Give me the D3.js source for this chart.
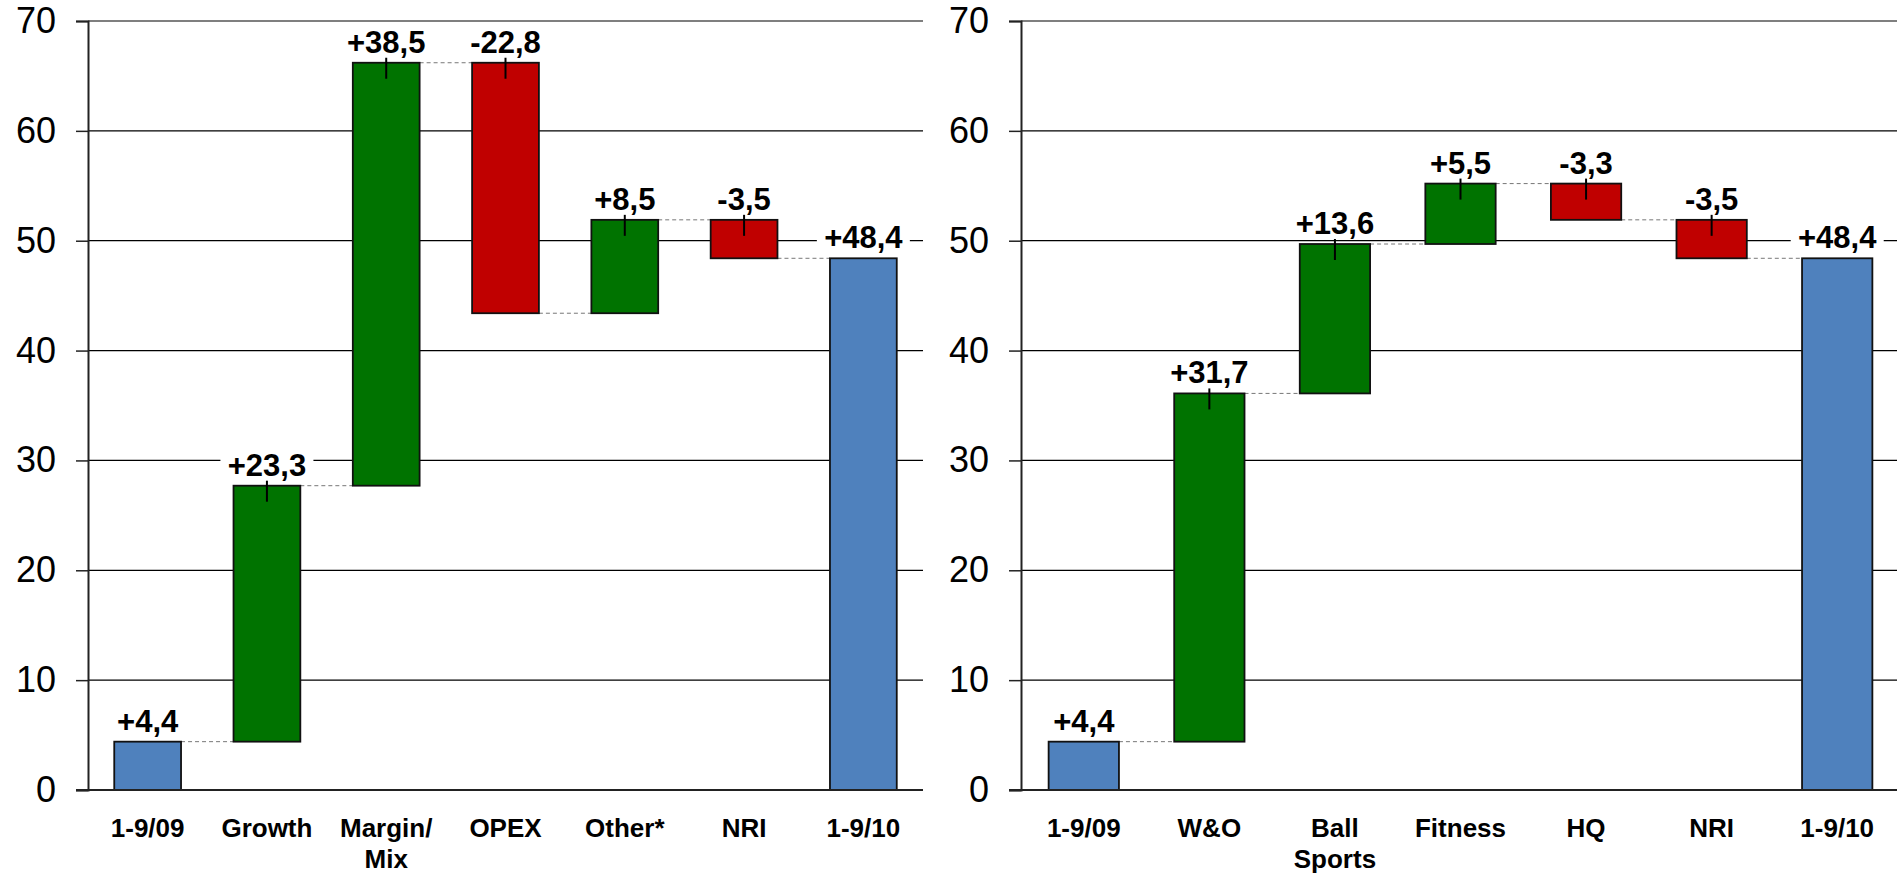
<!DOCTYPE html>
<html>
<head>
<meta charset="utf-8">
<script src="https://cdn.jsdelivr.net/npm/d3@7"></script>
<style>
  body { margin: 0; background: #fff; }
  svg { display: block; font-family: Arial, "Liberation Sans", sans-serif; }
</style>
</head>
<body>
<div id="chart"></div>
<script>
// Data
var leftCategories = ["1-9/09", "Growth", "Margin/\nMix", "OPEX", "Other*", "NRI", "1-9/10"];
var leftValues = [4.4, 23.3, 38.5, -22.8, 8.5, -3.5, 48.4];
var rightCategories = ["1-9/09", "W&O", "Ball\nSports", "Fitness", "HQ", "NRI", "1-9/10"];
var rightValues = [4.4, 31.7, 13.6, 5.5, -3.3, -3.5, 48.4];
var yTicks = [0, 10, 20, 30, 40, 50, 60, 70];

var W = 1897, H = 875;
var colors = { total: "#4f81bd", up: "#007300", down: "#c00000" };

var svg = d3.select("#chart").append("svg")
    .attr("width", W)
    .attr("height", H);

var yScale = d3.scaleLinear().domain([0, 70]).range([790, 21]);

function fmt(v) {
    return (v >= 0 ? "+" : "-") + Math.abs(v).toFixed(1).replace(".", ",");
}

// Turn deltas into waterfall steps (first and last are totals from zero)
function buildSteps(cats, vals) {
    var run = 0;
    return cats.map(function(c, i) {
        var total = (i === 0 || i === cats.length - 1);
        var start, end;
        if (total) {
            start = 0; end = vals[i]; run = vals[i];
        } else {
            start = run; end = run + vals[i]; run = end;
        }
        return {
            cat: c, value: vals[i], total: total, start: start, end: end,
            type: total ? "total" : (vals[i] >= 0 ? "up" : "down")
        };
    });
}

function waterfall(cats, vals, x0, x1, clipRight) {
    var steps = buildSteps(cats, vals);
    var g = svg.append("g");

    var xScale = d3.scaleBand()
        .domain(cats)
        .range([x0, x1])
        .padding(0);
    var barW = xScale.bandwidth() * 0.56;
    function cx(d) { return xScale(d.cat) + xScale.bandwidth() / 2; }

    // gridlines
    g.selectAll(".grid")
        .data(yTicks.filter(function(t) { return t > 0; }))
        .enter().append("line")
        .attr("x1", x0).attr("x2", clipRight)
        .attr("y1", function(d) { return yScale(d); })
        .attr("y2", function(d) { return yScale(d); })
        .attr("stroke", "#000").attr("stroke-width", 1.2);

    // y axis
    var yAxis = d3.axisLeft(yScale).tickValues(yTicks).tickSize(12).tickPadding(20);
    var ax = g.append("g").attr("transform", "translate(" + x0 + ",0)").call(yAxis);
    ax.select(".domain").attr("stroke", "#222").attr("stroke-width", 2);
    ax.selectAll(".tick line").attr("stroke", "#222").attr("stroke-width", 1.5);
    ax.selectAll(".tick text")
        .attr("font-size", "36px")
        .attr("font-family", "Arial, 'Liberation Sans', sans-serif")
        .attr("fill", "#000");

    // connectors
    g.selectAll(".conn")
        .data(steps.slice(0, -1))
        .enter().append("line")
        .attr("x1", function(d) { return cx(d) + barW / 2; })
        .attr("x2", function(d, i) { return cx(steps[i + 1]) - barW / 2; })
        .attr("y1", function(d) { return yScale(d.end); })
        .attr("y2", function(d) { return yScale(d.end); })
        .attr("stroke", "#777").attr("stroke-width", 1)
        .attr("stroke-dasharray", "4,3");

    // bars
    g.selectAll(".bar")
        .data(steps)
        .enter().append("rect")
        .attr("x", function(d) { return cx(d) - barW / 2; })
        .attr("y", function(d) { return yScale(Math.max(d.start, d.end)); })
        .attr("width", barW)
        .attr("height", function(d) { return Math.abs(yScale(d.start) - yScale(d.end)); })
        .attr("fill", function(d) { return colors[d.type]; })
        .attr("stroke", "#111").attr("stroke-width", 1.8);

    // zero line
    g.append("line")
        .attr("x1", x0 - 12).attr("x2", clipRight)
        .attr("y1", yScale(0)).attr("y2", yScale(0))
        .attr("stroke", "#222").attr("stroke-width", 2);

    // value labels with white backing
    var lab = g.selectAll(".lab")
        .data(steps)
        .enter().append("g");
    lab.append("rect")
        .attr("x", function(d) { return cx(d) - fmt(d.value).length * 8.5 - 4; })
        .attr("y", function(d) { return yScale(Math.max(d.start, d.end)) - 35; })
        .attr("width", function(d) { return fmt(d.value).length * 17 + 8; })
        .attr("height", 27)
        .attr("fill", "#fff");
    lab.append("text")
        .attr("x", cx)
        .attr("y", function(d) { return yScale(Math.max(d.start, d.end)) - 10; })
        .attr("text-anchor", "middle")
        .attr("font-size", "31px")
        .attr("font-weight", "bold")
        .text(function(d) { return fmt(d.value); });

    // small marker at the top of each change bar
    g.selectAll(".mark")
        .data(steps.filter(function(d) { return !d.total; }))
        .enter().append("line")
        .attr("x1", cx).attr("x2", cx)
        .attr("y1", function(d) { return yScale(Math.max(d.start, d.end)) - 5; })
        .attr("y2", function(d) { return yScale(Math.max(d.start, d.end)) + 16; })
        .attr("stroke", "#000").attr("stroke-width", 2);

    // category labels
    var cat = g.selectAll(".cat")
        .data(steps)
        .enter().append("text")
        .attr("x", cx)
        .attr("y", 837)
        .attr("text-anchor", "middle")
        .attr("font-size", "26px")
        .attr("font-weight", "bold");
    cat.selectAll("tspan")
        .data(function(d) { return d.cat.split("\n").map(function(s) { return { s: s, x: cx(d) }; }); })
        .enter().append("tspan")
        .attr("x", function(d) { return d.x; })
        .attr("dy", function(d, i) { return i === 0 ? 0 : 31; })
        .text(function(d) { return d.s; });
}

waterfall(leftCategories, leftValues, 88, 923, 923);
waterfall(rightCategories, rightValues, 1021, 1900, 1897);
</script>
</body>
</html>
